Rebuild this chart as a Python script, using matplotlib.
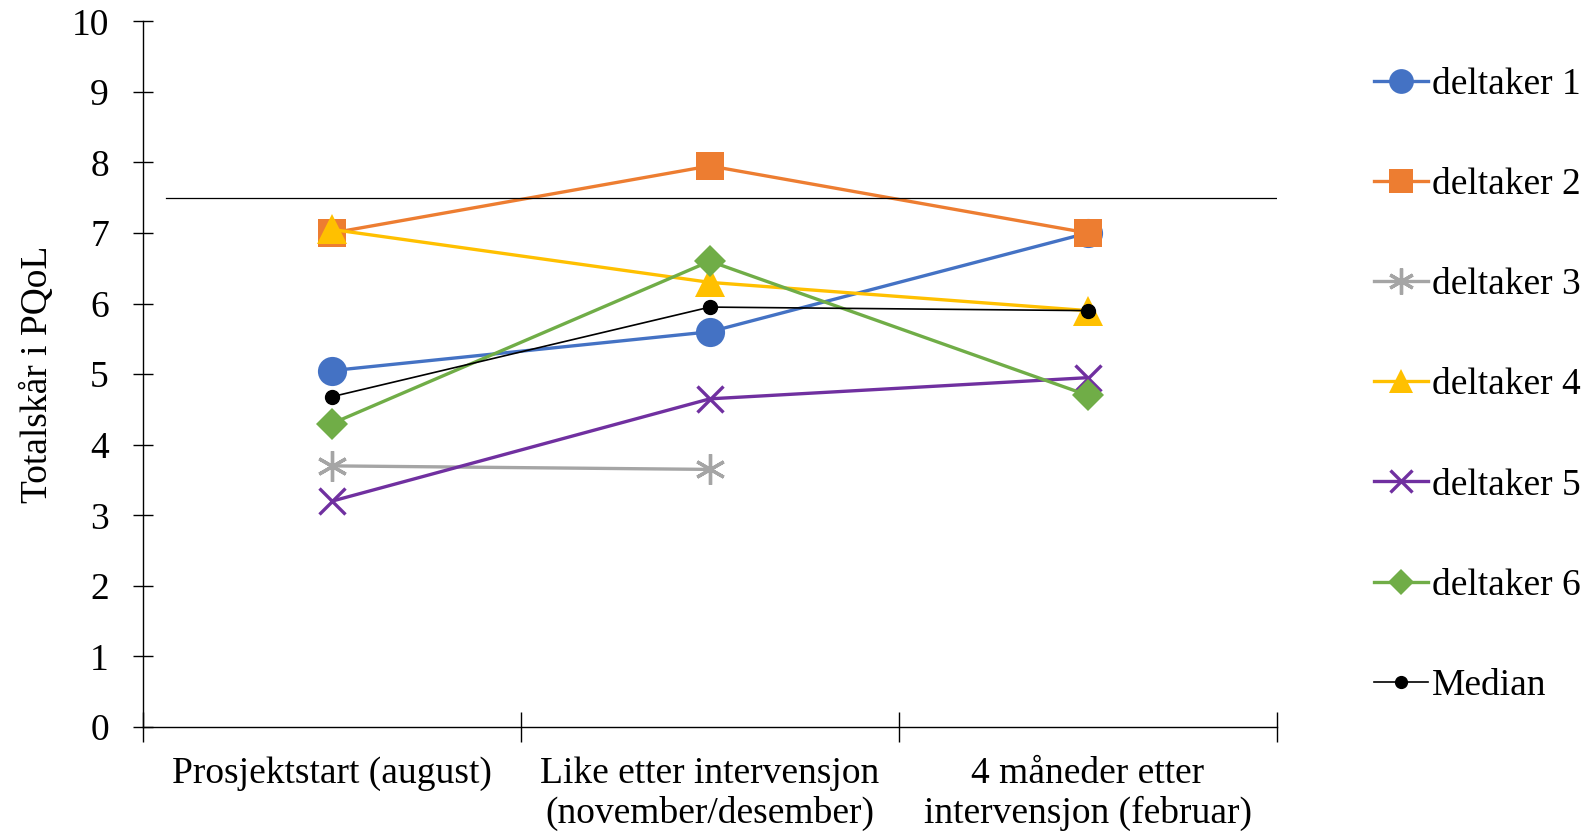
import numpy as np
import matplotlib
matplotlib.use("Agg")
import matplotlib.pyplot as plt

plt.rcParams['font.family'] = ['Liberation Serif', 'DejaVu Serif']

categories = ['Prosjektstart (august)',
              'Like etter intervensjon\n(november/desember)',
              '4 måneder etter\nintervensjon (februar)']

deltaker1 = [5.05, 5.6, 7.0]
deltaker2 = [7.0, 7.95, 7.0]
deltaker3 = [3.7, 3.65, np.nan]
deltaker4 = [7.05, 6.3, 5.9]
deltaker5 = [3.2, 4.65, 4.95]
deltaker6 = [4.3, 6.6, 4.7]
median = [4.68, 5.95, 5.9]
cutoff = 7.5

series = [
    ('deltaker 1', deltaker1, '#4472C4', 'o', 21),
    ('deltaker 2', deltaker2, '#ED7D31', 's', 20),
    ('deltaker 3', deltaker3, '#A5A5A5', (6, 2, 0), 22),
    ('deltaker 4', deltaker4, '#FFC000', '^', 21),
    ('deltaker 5', deltaker5, '#7030A0', 'x', 19),
    ('deltaker 6', deltaker6, '#70AD47', 'D', 16),
]

fs = 27

fig = plt.figure(figsize=(15.92, 8.34), dpi=100)
ax = fig.add_axes([0.0898, 0.1283, 0.7122, 0.8462])

x = np.arange(len(categories))
for label, vals, color, marker, ms in series:
    ax.plot(x, vals, color=color, linewidth=2.4, marker=marker, markersize=ms,
            markeredgewidth=2.4 if marker in ('x',) or isinstance(marker, tuple) else 0,
            markeredgecolor=color, label=label)
ax.plot(x, median, color='black', linewidth=1.2, marker='o', markersize=10,
        label='Median')

ax.axhline(cutoff, xmin=0.02, xmax=1.0, color='black', linewidth=0.9)

ax.set_xlim(-0.5, 2.5)
ax.set_ylim(0, 10)
ax.set_yticks(range(0, 11))
ax.set_xticks(x)
ax.set_xticklabels(categories, fontsize=fs, linespacing=1.2)
ax.set_xticks([-0.5, 0.5, 1.5, 2.5], minor=True)
ax.tick_params(axis='x', which='major', length=0, pad=21)
ax.tick_params(axis='x', which='minor', direction='inout', length=22, width=1)
ax.tick_params(axis='y', direction='inout', length=15, width=1, labelsize=fs, pad=17)

for s in ['top', 'right']:
    ax.spines[s].set_visible(False)
for s in ['left', 'bottom']:
    ax.spines[s].set_linewidth(1)

ax.set_ylabel('Totalskår i PQoL', fontsize=fs, labelpad=12)

fig.legend(loc='upper left', bbox_to_anchor=(0.8535, 0.937), frameon=False,
           fontsize=fs, markerscale=0.85, handlelength=1.45, handletextpad=0.1,
           labelspacing=1.75, borderaxespad=0)

fig.savefig('out.png', dpi=100)
